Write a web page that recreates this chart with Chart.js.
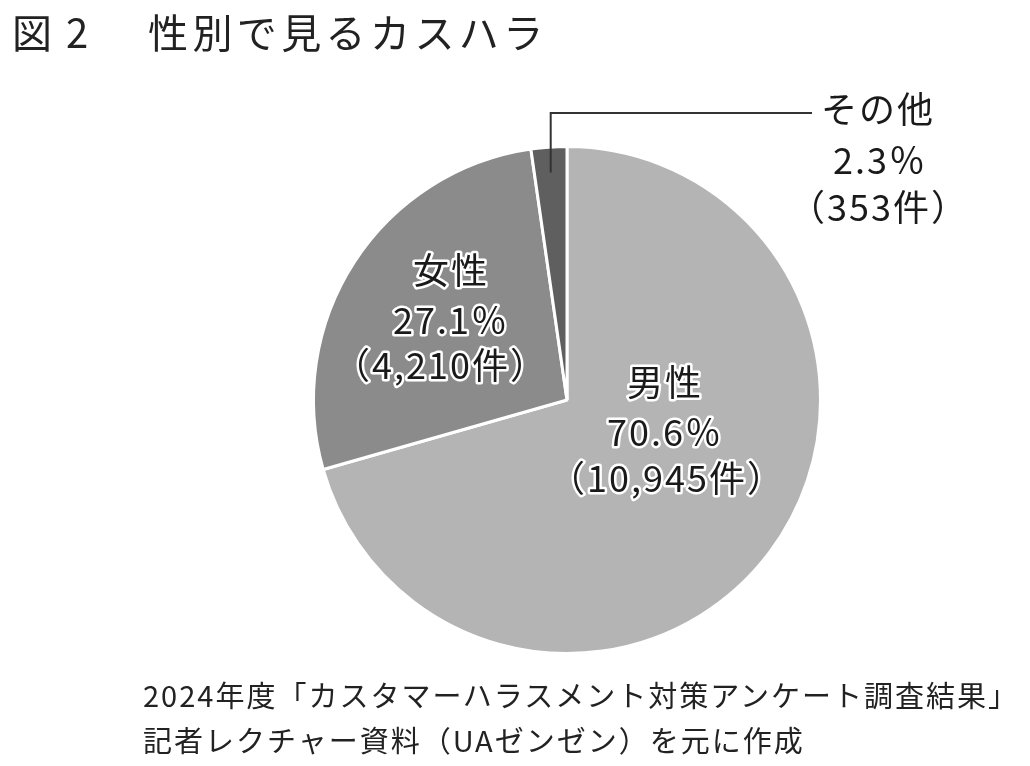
<!DOCTYPE html>
<html><head><meta charset="utf-8">
<script src="https://cdn.jsdelivr.net/npm/chart.js@4.4.1/dist/chart.umd.min.js"></script>
<style>
html,body{margin:0;padding:0;background:#fff;width:1030px;height:766px;overflow:hidden;}
#wrap{position:absolute;left:0;top:0;width:1030px;height:766px;}
.t{position:absolute;font-family:"Noto Sans CJK JP","Noto Sans",sans-serif;color:#222;white-space:nowrap;}
</style></head>
<body>
<div id="wrap"><canvas id="c" width="1030" height="766"></canvas></div>
<div class="t" style="left:12px;top:2px;font-size:40px;font-weight:400;">図</div>
<div class="t" style="left:66px;top:2px;font-size:40px;font-weight:400;">2</div>
<div class="t" style="left:148px;top:2px;font-size:40px;font-weight:400;letter-spacing:4.4px;">性別で見るカスハラ</div>
<div class="t" style="left:143px;top:672px;font-size:29px;line-height:45px;letter-spacing:2px;">2024年度「カスタマーハラスメント対策アンケート調査結果」<br>記者レクチャー資料（UAゼンゼン）を元に作成</div>
<script>
const categories = ["男性", "女性", "その他"];
const counts = [10945, 4210, 353];
const percents = ["70.6", "27.1", "2.3"];
const countLabels = ["10,945", "4,210", "353"];
const colors = ["#b4b4b4", "#8b8b8b", "#5f5f5f"];

const labelPlugin = {
  id: 'labels',
  afterDraw(chart) {
    const ctx = chart.ctx;
    const arc = chart.getDatasetMeta(0).data[0];
    const cx = arc.x, cy = arc.y, r = arc.outerRadius;
    ctx.save();
    ctx.textAlign = 'center';
    ctx.textBaseline = 'middle';
    ctx.font = '400 36px "Noto Sans CJK JP", sans-serif';
    if ('letterSpacing' in ctx) ctx.letterSpacing = '2px';
    ctx.lineJoin = 'round';
    function halo(text, x, y) {
      ctx.strokeStyle = '#fff';
      ctx.lineWidth = 5;
      ctx.strokeText(text, x, y);
      ctx.fillStyle = '#1a1a1a';
      ctx.fillText(text, x, y);
    }
    function plain(text, x, y) {
      ctx.fillStyle = '#1a1a1a';
      ctx.fillText(text, x, y);
    }
    // 男性
    halo(categories[0], cx + 98, cy - 18);
    halo(percents[0] + '％', cx + 98, cy + 32);
    halo('（' + countLabels[0] + '件）', cx + 100, cy + 78);
    // 女性
    halo(categories[1], cx - 116, cy - 130);
    halo(percents[1] + '％', cx - 116, cy - 80);
    halo('（' + countLabels[1] + '件）', cx - 126, cy - 35);
    // その他 leader
    const a3 = chart.getDatasetMeta(0).data[2];
    const mid = (a3.startAngle + a3.endAngle) / 2;
    const sx = cx + Math.cos(mid) * r * 0.9;
    const sy = cy + Math.sin(mid) * r * 0.9;
    ctx.beginPath();
    ctx.strokeStyle = '#333';
    ctx.lineWidth = 2;
    ctx.lineJoin = 'miter';
    ctx.moveTo(sx, sy);
    ctx.lineTo(sx, cy - 287);
    ctx.lineTo(cx + 245, cy - 287);
    ctx.stroke();
    ctx.lineJoin = 'round';
    plain(categories[2], cx + 311, cy - 291);
    plain(percents[2] + '％', cx + 313, cy - 240);
    plain('（' + countLabels[2] + '件）', cx + 312, cy - 193);
    ctx.restore();
  }
};

new Chart(document.getElementById('c'), {
  type: 'pie',
  data: {
    labels: categories,
    datasets: [{
      data: counts,
      backgroundColor: colors,
      borderColor: '#ffffff',
      borderWidth: 3
    }]
  },
  options: {
    responsive: false,
    animation: false,
    layout: { padding: { left: 312, right: 208, top: 145, bottom: 111 } },
    plugins: { legend: { display: false }, tooltip: { enabled: false }, title: { display: false } }
  },
  plugins: [labelPlugin]
});
</script>
</body></html>
